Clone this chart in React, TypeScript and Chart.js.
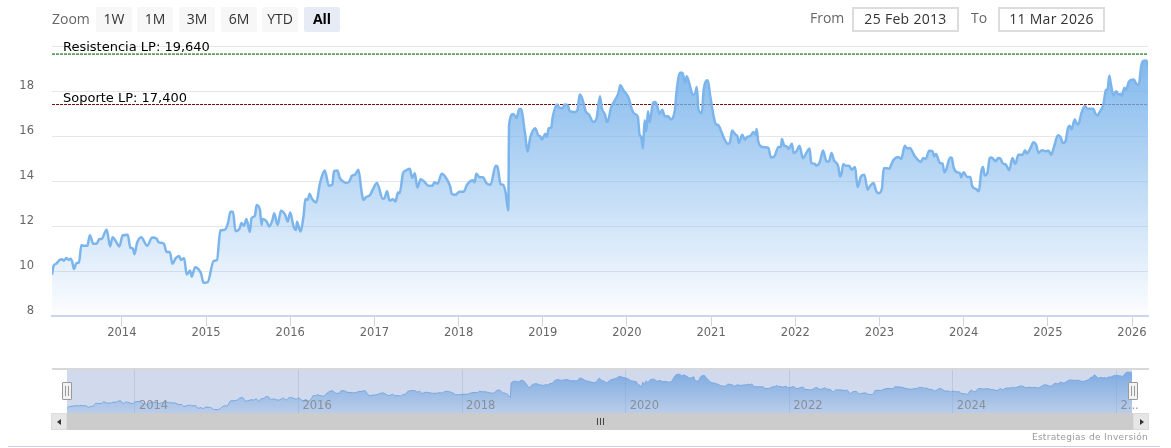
import { useEffect, useRef } from "react";
import type { CSSProperties } from "react";
import Chart from "chart.js/auto";

// fecha en años decimales
const dates = [
  2013.17, 2013.19, 2013.22, 2013.26, 2013.29, 2013.31, 2013.34, 2013.37, 2013.39, 2013.41,
  2013.43, 2013.46, 2013.49, 2013.52, 2013.54, 2013.56, 2013.59, 2013.62, 2013.66, 2013.7,
  2013.73, 2013.76, 2013.82, 2013.86, 2013.89, 2013.93, 2013.97, 2014.01, 2014.07, 2014.1,
  2014.13, 2014.15, 2014.18, 2014.23, 2014.3, 2014.36, 2014.41, 2014.44, 2014.5, 2014.53,
  2014.57, 2014.6, 2014.64, 2014.68, 2014.7, 2014.74, 2014.77, 2014.81, 2014.83, 2014.87,
  2014.91, 2014.94, 2014.97, 2015.02, 2015.09, 2015.13, 2015.17, 2015.22, 2015.26, 2015.29,
  2015.32, 2015.35, 2015.4, 2015.42, 2015.45, 2015.48, 2015.52, 2015.54, 2015.58, 2015.6,
  2015.64, 2015.66, 2015.67, 2015.72, 2015.75, 2015.79, 2015.81, 2015.85, 2015.89, 2015.94,
  2015.97, 2016.0, 2016.04, 2016.07, 2016.08, 2016.12, 2016.16, 2016.18, 2016.21, 2016.23,
  2016.26, 2016.31, 2016.35, 2016.37, 2016.41, 2016.46, 2016.5, 2016.52, 2016.56, 2016.59,
  2016.63, 2016.67, 2016.71, 2016.73, 2016.77, 2016.81, 2016.85, 2016.87, 2016.9, 2016.95,
  2016.98, 2017.03, 2017.1, 2017.12, 2017.15, 2017.18, 2017.22, 2017.25, 2017.28, 2017.3,
  2017.34, 2017.37, 2017.42, 2017.45, 2017.48, 2017.51, 2017.55, 2017.59, 2017.64, 2017.69,
  2017.71, 2017.75, 2017.8, 2017.84, 2017.9, 2017.92, 2017.96, 2018.01, 2018.06, 2018.1,
  2018.17, 2018.19, 2018.21, 2018.25, 2018.29, 2018.33, 2018.38, 2018.44, 2018.46, 2018.5,
  2018.53, 2018.56, 2018.59, 2018.6, 2018.65, 2018.69, 2018.72, 2018.74, 2018.79, 2018.82,
  2018.85, 2018.91, 2018.95, 2018.97, 2018.99, 2019.03, 2019.05, 2019.07, 2019.1, 2019.12,
  2019.17, 2019.2, 2019.24, 2019.26, 2019.3, 2019.32, 2019.38, 2019.41, 2019.44, 2019.47,
  2019.51, 2019.55, 2019.6, 2019.64, 2019.68,
  2019.7, 2019.74, 2019.76, 2019.78, 2019.81, 2019.85, 2019.9, 2019.92, 2019.96, 2020.02,
  2020.06, 2020.09, 2020.13, 2020.15, 2020.17, 2020.19, 2020.21, 2020.23, 2020.25, 2020.27,
  2020.31, 2020.34, 2020.39, 2020.42, 2020.45, 2020.49, 2020.52, 2020.57, 2020.59, 2020.63,
  2020.66, 2020.69, 2020.71, 2020.75, 2020.78, 2020.81, 2020.83, 2020.85, 2020.89, 2020.91,
  2020.96, 2020.99, 2021.03, 2021.06, 2021.08, 2021.12, 2021.16, 2021.2, 2021.22, 2021.25,
  2021.29, 2021.31, 2021.33, 2021.37, 2021.4, 2021.43, 2021.47, 2021.5, 2021.53, 2021.54,
  2021.56, 2021.59, 2021.64, 2021.68, 2021.71, 2021.75, 2021.8, 2021.83, 2021.84, 2021.87,
  2021.9, 2021.92, 2021.96, 2021.98, 2022.02, 2022.05, 2022.09, 2022.13, 2022.17, 2022.19,
  2022.23, 2022.25, 2022.29, 2022.33, 2022.37, 2022.4, 2022.43, 2022.46, 2022.51, 2022.53,
  2022.55, 2022.57, 2022.6, 2022.64, 2022.67, 2022.71, 2022.74, 2022.78, 2022.82, 2022.86,
  2022.89, 2022.93, 2022.96, 2022.99, 2023.03, 2023.05, 2023.09, 2023.12,
  2023.14, 2023.17, 2023.22, 2023.26, 2023.3, 2023.33, 2023.36, 2023.42, 2023.49, 2023.52,
  2023.55, 2023.59, 2023.63, 2023.65, 2023.67, 2023.72, 2023.75, 2023.77, 2023.79, 2023.84,
  2023.86, 2023.88, 2023.92, 2023.96, 2023.97, 2024.0, 2024.04, 2024.08, 2024.1, 2024.15,
  2024.18, 2024.21, 2024.23, 2024.25, 2024.28, 2024.31, 2024.33, 2024.38, 2024.41, 2024.44,
  2024.46, 2024.5, 2024.54, 2024.58, 2024.61, 2024.62, 2024.65, 2024.7, 2024.73, 2024.75,
  2024.79, 2024.83, 2024.86, 2024.89, 2024.93, 2024.97, 2025.01, 2025.04, 2025.07, 2025.12,
  2025.15, 2025.18, 2025.21, 2025.24, 2025.26, 2025.28, 2025.32, 2025.35, 2025.37, 2025.4,
  2025.44, 2025.47, 2025.5, 2025.54, 2025.56, 2025.59, 2025.62, 2025.66, 2025.69, 2025.71,
  2025.73, 2025.75, 2025.78, 2025.81, 2025.84, 2025.87, 2025.88, 2025.91, 2025.93, 2025.96,
  2026.02, 2026.06, 2026.08, 2026.11, 2026.13, 2026.17, 2026.19,
];

const prices = [
  9.83, 10.24, 10.32, 10.49, 10.52, 10.46, 10.58, 10.49, 10.55, 10.42,
  10.09, 10.35, 10.38, 11.16, 11.12, 11.12, 11.12, 11.59, 11.21, 11.21,
  11.41, 11.43, 11.83, 11.09, 11.5, 11.31, 11.09, 11.59, 11.61, 11.04,
  11.01, 10.75, 11.24, 11.5, 11.12, 11.49, 11.44, 11.27, 11.21, 10.85,
  10.85, 10.32, 10.57, 10.67, 10.49, 10.57, 9.84, 10.02, 9.75, 10.17,
  10.08, 9.9, 9.48, 9.51, 10.45, 10.49, 11.8, 11.83, 12.13, 12.63,
  12.63, 11.77, 11.9, 12.13, 12.01, 12.31, 11.73, 12.34, 12.45, 12.93,
  12.72, 12.05, 12.31, 12.2, 11.98, 12.28, 12.57, 12.04, 12.68, 12.5,
  12.2, 12.6, 11.98, 11.83, 12.19, 11.76, 12.5, 13.2, 13.17, 13.43,
  13.2, 13.05, 13.84, 14.13, 14.47, 13.79, 13.84, 14.43, 14.47, 14.13,
  13.98, 13.91, 14.03, 14.23, 14.28, 14.5, 13.46, 13.16, 13.28, 13.39,
  13.61, 13.91, 13.21, 13.24, 13.54, 13.13, 13.19, 13.09, 13.49, 13.46,
  14.35, 14.46, 14.54, 14.13, 14.35, 13.71, 14.08, 13.98, 13.79, 13.79,
  13.94, 13.88, 14.32, 14.2, 13.76, 13.42, 13.39, 13.52, 13.52, 13.83,
  14.03, 13.94, 14.32, 14.17, 14.17, 13.91, 13.83, 14.68, 14.65, 13.86,
  13.83, 13.46, 12.69, 16.5, 16.98, 16.8, 17.2, 17.2, 16.1, 15.3,
  15.91, 16.34, 16.01, 15.99, 15.84, 16.1, 15.96, 16.34, 16.37, 16.88,
  17.4, 17.25, 17.25, 17.4, 17.35, 17.1, 17.07, 17.14, 17.84, 17.65,
  17.1, 16.95, 16.62, 16.8, 17.77,
  17.25, 16.95, 16.62, 16.73, 17.25, 17.54, 17.92, 18.26, 18.03, 17.69,
  17.17, 16.99, 16.85, 16.06, 15.96, 15.45, 16.7, 16.21, 17.1, 16.61,
  17.47, 17.51, 16.99, 17.17, 16.88, 16.88, 16.73, 17.17, 17.99, 18.81,
  18.81, 18.36, 18.66, 18.21, 17.84, 17.89, 18.18, 17.17, 17.02, 17.99,
  18.48, 17.77, 16.88, 16.5, 16.5, 16.21, 15.84, 15.66, 15.69, 16.24,
  16.06, 16.01, 15.69, 16.06, 15.84, 15.96, 16.01, 16.18, 16.06, 16.31,
  15.76, 15.54, 15.5, 15.47, 15.05, 15.09, 15.51, 15.51, 15.87, 15.57,
  15.54, 15.42, 15.66, 15.24, 15.36, 15.57, 15.01, 15.24, 15.44, 14.8,
  14.77, 14.68, 14.83, 15.36, 14.87, 14.87, 15.24, 14.92, 14.65, 14.2,
  14.35, 14.75, 14.68, 14.68, 14.5, 14.62, 13.73, 14.2, 14.28, 13.61,
  13.79, 13.91, 13.56, 13.46, 13.68, 14.57, 14.57, 14.54,
  14.73, 14.95, 15.07, 14.98, 15.57, 15.44, 15.47, 15.1, 14.85, 15.02,
  14.98, 15.35, 15.32, 15.1, 15.2, 14.8, 14.77, 14.39, 14.48, 15.05,
  15.02, 14.62, 14.39, 14.33, 14.16, 14.39, 14.18, 14.18, 13.79, 13.64,
  13.54, 14.43, 14.62, 14.25, 14.33, 15.02, 15.05, 14.88, 15.02, 14.98,
  14.8, 14.73, 14.48, 15.02, 14.77, 14.8, 15.17, 15.17, 15.37, 15.22,
  15.43, 15.72, 15.62, 15.25, 15.37, 15.32, 15.35, 15.17, 15.47, 16.03,
  15.96, 15.69, 15.77, 16.36, 16.46, 16.29, 16.73, 16.51, 16.58, 17.03,
  17.33, 17.21, 17.21, 17.21, 17.03, 16.91, 17.1, 17.4, 18.04, 18.07,
  18.69, 18.29, 17.8, 17.99, 17.85, 17.88, 17.77, 18.14, 18.04, 18.39,
  18.51, 18.29, 18.29, 19.11, 19.33, 19.36, 19.11,
];

const firstDate = 2013.17;
const lastDate = 2026.19;
const yearTicks = [2014, 2015, 2016, 2017, 2018, 2019, 2020, 2021, 2022, 2023, 2024, 2025, 2026];
const navYearTicks = [2014, 2016, 2018, 2020, 2022, 2024, 2026];
const priceTicks = [8, 10, 12, 14, 16, 18, 20];
const hiddenPriceTicks = [20];

const resistance = 19.64;
const support = 17.4;
const resistanceLabel = "Resistencia LP: 19,640";
const supportLabel = "Soporte LP: 17,400";

const zoomButtons = ["1W", "1M", "3M", "6M", "YTD", "All"];
const fromDate = "25 Feb 2013";
const toDate = "11 Mar 2026";
const credit = "Estrategias de Inversión";

const FONT = '"DejaVu Sans", sans-serif';
const UI_FONT = '"Open Sans", sans-serif';
const LINE = "#7cb5ec";

const series = dates.map((x, i) => ({ x, y: prices[i] }));

// texto de las líneas de soporte y resistencia
const levelLabels = {
  id: "levelLabels",
  afterDatasetsDraw(chart: any) {
    const { ctx, scales } = chart;
    ctx.save();
    ctx.fillStyle = "#000";
    ctx.font = `13px ${FONT}`;
    ctx.textBaseline = "alphabetic";
    ctx.fillText(resistanceLabel, 63, scales.y.getPixelForValue(resistance) - 3);
    ctx.fillText(supportLabel, 63, scales.y.getPixelForValue(support) - 3);
    ctx.restore();
  },
};

// máscara azul del navegador
const navMask = {
  id: "navMask",
  afterDatasetsDraw(chart: any) {
    const { ctx, chartArea } = chart;
    ctx.save();
    ctx.fillStyle = "rgba(102,133,194,0.3)";
    ctx.fillRect(chartArea.left, chartArea.top, chartArea.right - chartArea.left, chartArea.bottom - chartArea.top);
    ctx.restore();
  },
};

function areaGradient(context: any, top: string, bottom: string) {
  const { ctx, chartArea } = context.chart;
  if (!chartArea) return top;
  const g = ctx.createLinearGradient(0, chartArea.top, 0, chartArea.bottom);
  g.addColorStop(0, top);
  g.addColorStop(1, bottom);
  return g;
}

const box: CSSProperties = { position: "absolute", boxSizing: "border-box" };

export default function App() {
  const mainRef = useRef<HTMLCanvasElement>(null);
  const navRef = useRef<HTMLCanvasElement>(null);

  useEffect(() => {
    if (!mainRef.current || !navRef.current) return;

    const main = new Chart(mainRef.current, {
      type: "line",
      data: {
        datasets: [
          {
            data: series,
            borderColor: LINE,
            borderWidth: 2.5,
            borderJoinStyle: "round",
            pointRadius: 0,
            cubicInterpolationMode: "monotone",
            fill: "start",
            backgroundColor: (c: any) => areaGradient(c, "rgba(124,181,236,1)", "rgba(124,181,236,0.02)"),
          },
          {
            data: [{ x: firstDate, y: resistance }, { x: lastDate, y: resistance }],
            borderColor: "#5f9f5f",
            borderWidth: 1.6,
            borderDash: [3, 1],
            pointRadius: 0,
            fill: false,
          },
          {
            data: [{ x: firstDate, y: support }, { x: lastDate, y: support }],
            borderColor: "#7a1010",
            borderWidth: 1.2,
            borderDash: [3, 1],
            pointRadius: 0,
            fill: false,
          },
        ],
      },
      options: {
        responsive: false,
        animation: false,
        layout: { padding: { top: 46, right: 23, left: 0, bottom: 0 } },
        plugins: { legend: { display: false }, tooltip: { enabled: false } },
        scales: {
          x: {
            type: "linear",
            min: firstDate,
            max: lastDate,
            afterBuildTicks: (s: any) => {
              s.ticks = yearTicks.map((value) => ({ value }));
            },
            afterFit: (s: any) => {
              s.height = 29;
            },
            border: { color: "#ccd6eb", width: 2 },
            grid: { drawOnChartArea: false, tickLength: 10, tickColor: "#ccd6eb" },
            ticks: {
              autoSkip: false,
              maxRotation: 0,
              padding: 0,
              color: "#666",
              font: { family: FONT, size: 11.5 },
              callback: (v: any) => String(v),
            },
          },
          y: {
            min: 8,
            max: 20,
            afterBuildTicks: (s: any) => {
              s.ticks = priceTicks.map((value) => ({ value }));
            },
            afterFit: (s: any) => {
              s.width = 52;
            },
            border: { display: false },
            grid: { color: "#e6e6e6", drawTicks: false },
            ticks: {
              padding: 18,
              labelOffset: -5,
              color: "#666",
              font: { family: FONT, size: 11.5 },
              callback: (v: any) => (hiddenPriceTicks.includes(v) ? "" : String(v)),
            },
          },
        },
      },
      plugins: [levelLabels],
    } as any);

    const nav = new Chart(navRef.current, {
      type: "line",
      data: {
        datasets: [
          {
            data: series,
            borderColor: LINE,
            borderWidth: 1,
            pointRadius: 0,
            cubicInterpolationMode: "monotone",
            fill: "start",
            backgroundColor: (c: any) => areaGradient(c, "rgba(124,181,236,0.95)", "rgba(124,181,236,0.25)"),
          },
        ],
      },
      options: {
        responsive: false,
        animation: false,
        layout: { padding: { top: 9, right: 39, left: 67, bottom: 0 } },
        plugins: { legend: { display: false }, tooltip: { enabled: false } },
        scales: {
          x: {
            type: "linear",
            min: firstDate,
            max: lastDate,
            afterBuildTicks: (s: any) => {
              s.ticks = navYearTicks.map((value) => ({ value }));
            },
            afterFit: (s: any) => {
              s.height = 7;
            },
            border: { display: false },
            grid: { color: "#e6e6e6", drawTicks: false },
            ticks: {
              autoSkip: false,
              maxRotation: 0,
              z: 1,
              mirror: true,
              align: "start",
              padding: 0,
              labelOffset: 4,
              color: "#8a8f99",
              font: { family: FONT, size: 11.5 },
              callback: (v: any) => (v === 2026 ? "2..." : String(v)),
            },
          },
          y: { display: false, min: 8.6, max: 20.2 },
        },
      },
      plugins: [navMask],
    } as any);

    return () => {
      main.destroy();
      nav.destroy();
    };
  }, []);

  const btnLefts = [96, 137, 179, 221, 262, 304];

  return (
    <div style={{ position: "absolute", left: 0, top: 0, width: 1171, height: 448, background: "#fff", overflow: "hidden", fontFamily: UI_FONT }}>
      <canvas ref={mainRef} width={1171} height={345} style={{ position: "absolute", left: 0, top: 0 }} />
      <canvas ref={navRef} width={1171} height={60} style={{ position: "absolute", left: 0, top: 360 }} />

      <div style={{ ...box, left: 52, top: 9, fontSize: 14, color: "#666" }}>Zoom</div>
      {zoomButtons.map((b, i) => (
        <div
          key={b}
          style={{
            ...box,
            left: btnLefts[i],
            top: 7,
            width: 36,
            height: 25,
            lineHeight: "23px",
            textAlign: "center",
            fontSize: 14,
            borderRadius: 2,
            background: b === "All" ? "#e6ebf5" : "#f7f7f7",
            color: b === "All" ? "#000" : "#333",
            fontWeight: b === "All" ? 700 : 400,
          }}
        >
          {b}
        </div>
      ))}

      <div style={{ ...box, left: 810, top: 8, fontSize: 14, color: "#666" }}>From</div>
      <div style={{ ...box, left: 852, top: 7, width: 107, height: 25, border: "2px solid #dcdcdc", textAlign: "center", lineHeight: "20px", fontSize: 14, letterSpacing: 0.3, color: "#333" }}>{fromDate}</div>
      <div style={{ ...box, left: 971, top: 8, fontSize: 14, color: "#666" }}>To</div>
      <div style={{ ...box, left: 998, top: 7, width: 107, height: 25, border: "2px solid #dcdcdc", textAlign: "center", lineHeight: "20px", fontSize: 14, letterSpacing: 0.3, color: "#333" }}>{toDate}</div>

      {/* navegador y barra de scroll */}
      <div style={{ ...box, left: 52, top: 368, width: 1097, height: 2, background: "#d8d8d8" }} />
      <div style={{ ...box, left: 52, top: 413, width: 1097, height: 17, background: "#cccccc" }} />
      <div style={{ ...box, left: 51, top: 413, width: 16, height: 17, background: "#e6e6e6", border: "1px solid #dcdcdc" }} />
      <div style={{ ...box, left: 1133, top: 413, width: 16, height: 17, background: "#e6e6e6", border: "1px solid #dcdcdc" }} />
      <div style={{ ...box, left: 57, top: 419, width: 0, height: 0, borderTop: "3px solid transparent", borderBottom: "3px solid transparent", borderRight: "4px solid #333" }} />
      <div style={{ ...box, left: 1140, top: 419, width: 0, height: 0, borderTop: "3px solid transparent", borderBottom: "3px solid transparent", borderLeft: "4px solid #333" }} />
      <div style={{ ...box, left: 597, top: 418, width: 7, height: 7, borderLeft: "1px solid #444", borderRight: "1px solid #444" }} />
      <div style={{ ...box, left: 600, top: 418, width: 1, height: 7, background: "#444" }} />
      {[62, 1128].map((l) => (
        <div key={l} style={{ ...box, left: l, top: 382, width: 10, height: 18, background: "#f2f2f2", border: "1px solid #999", borderRadius: 1 }}>
          <div style={{ ...box, left: 2, top: 3, width: 4, height: 10, borderLeft: "1px solid #999", borderRight: "1px solid #999" }} />
        </div>
      ))}

      <div style={{ ...box, right: 23, top: 432, fontFamily: FONT, fontSize: 9, letterSpacing: 0.3, color: "#999", whiteSpace: "nowrap" }}>{credit}</div>
      <div style={{ ...box, left: 8, top: 446, width: 1152, height: 1, background: "#cfcbe9" }} />
    </div>
  );
}
